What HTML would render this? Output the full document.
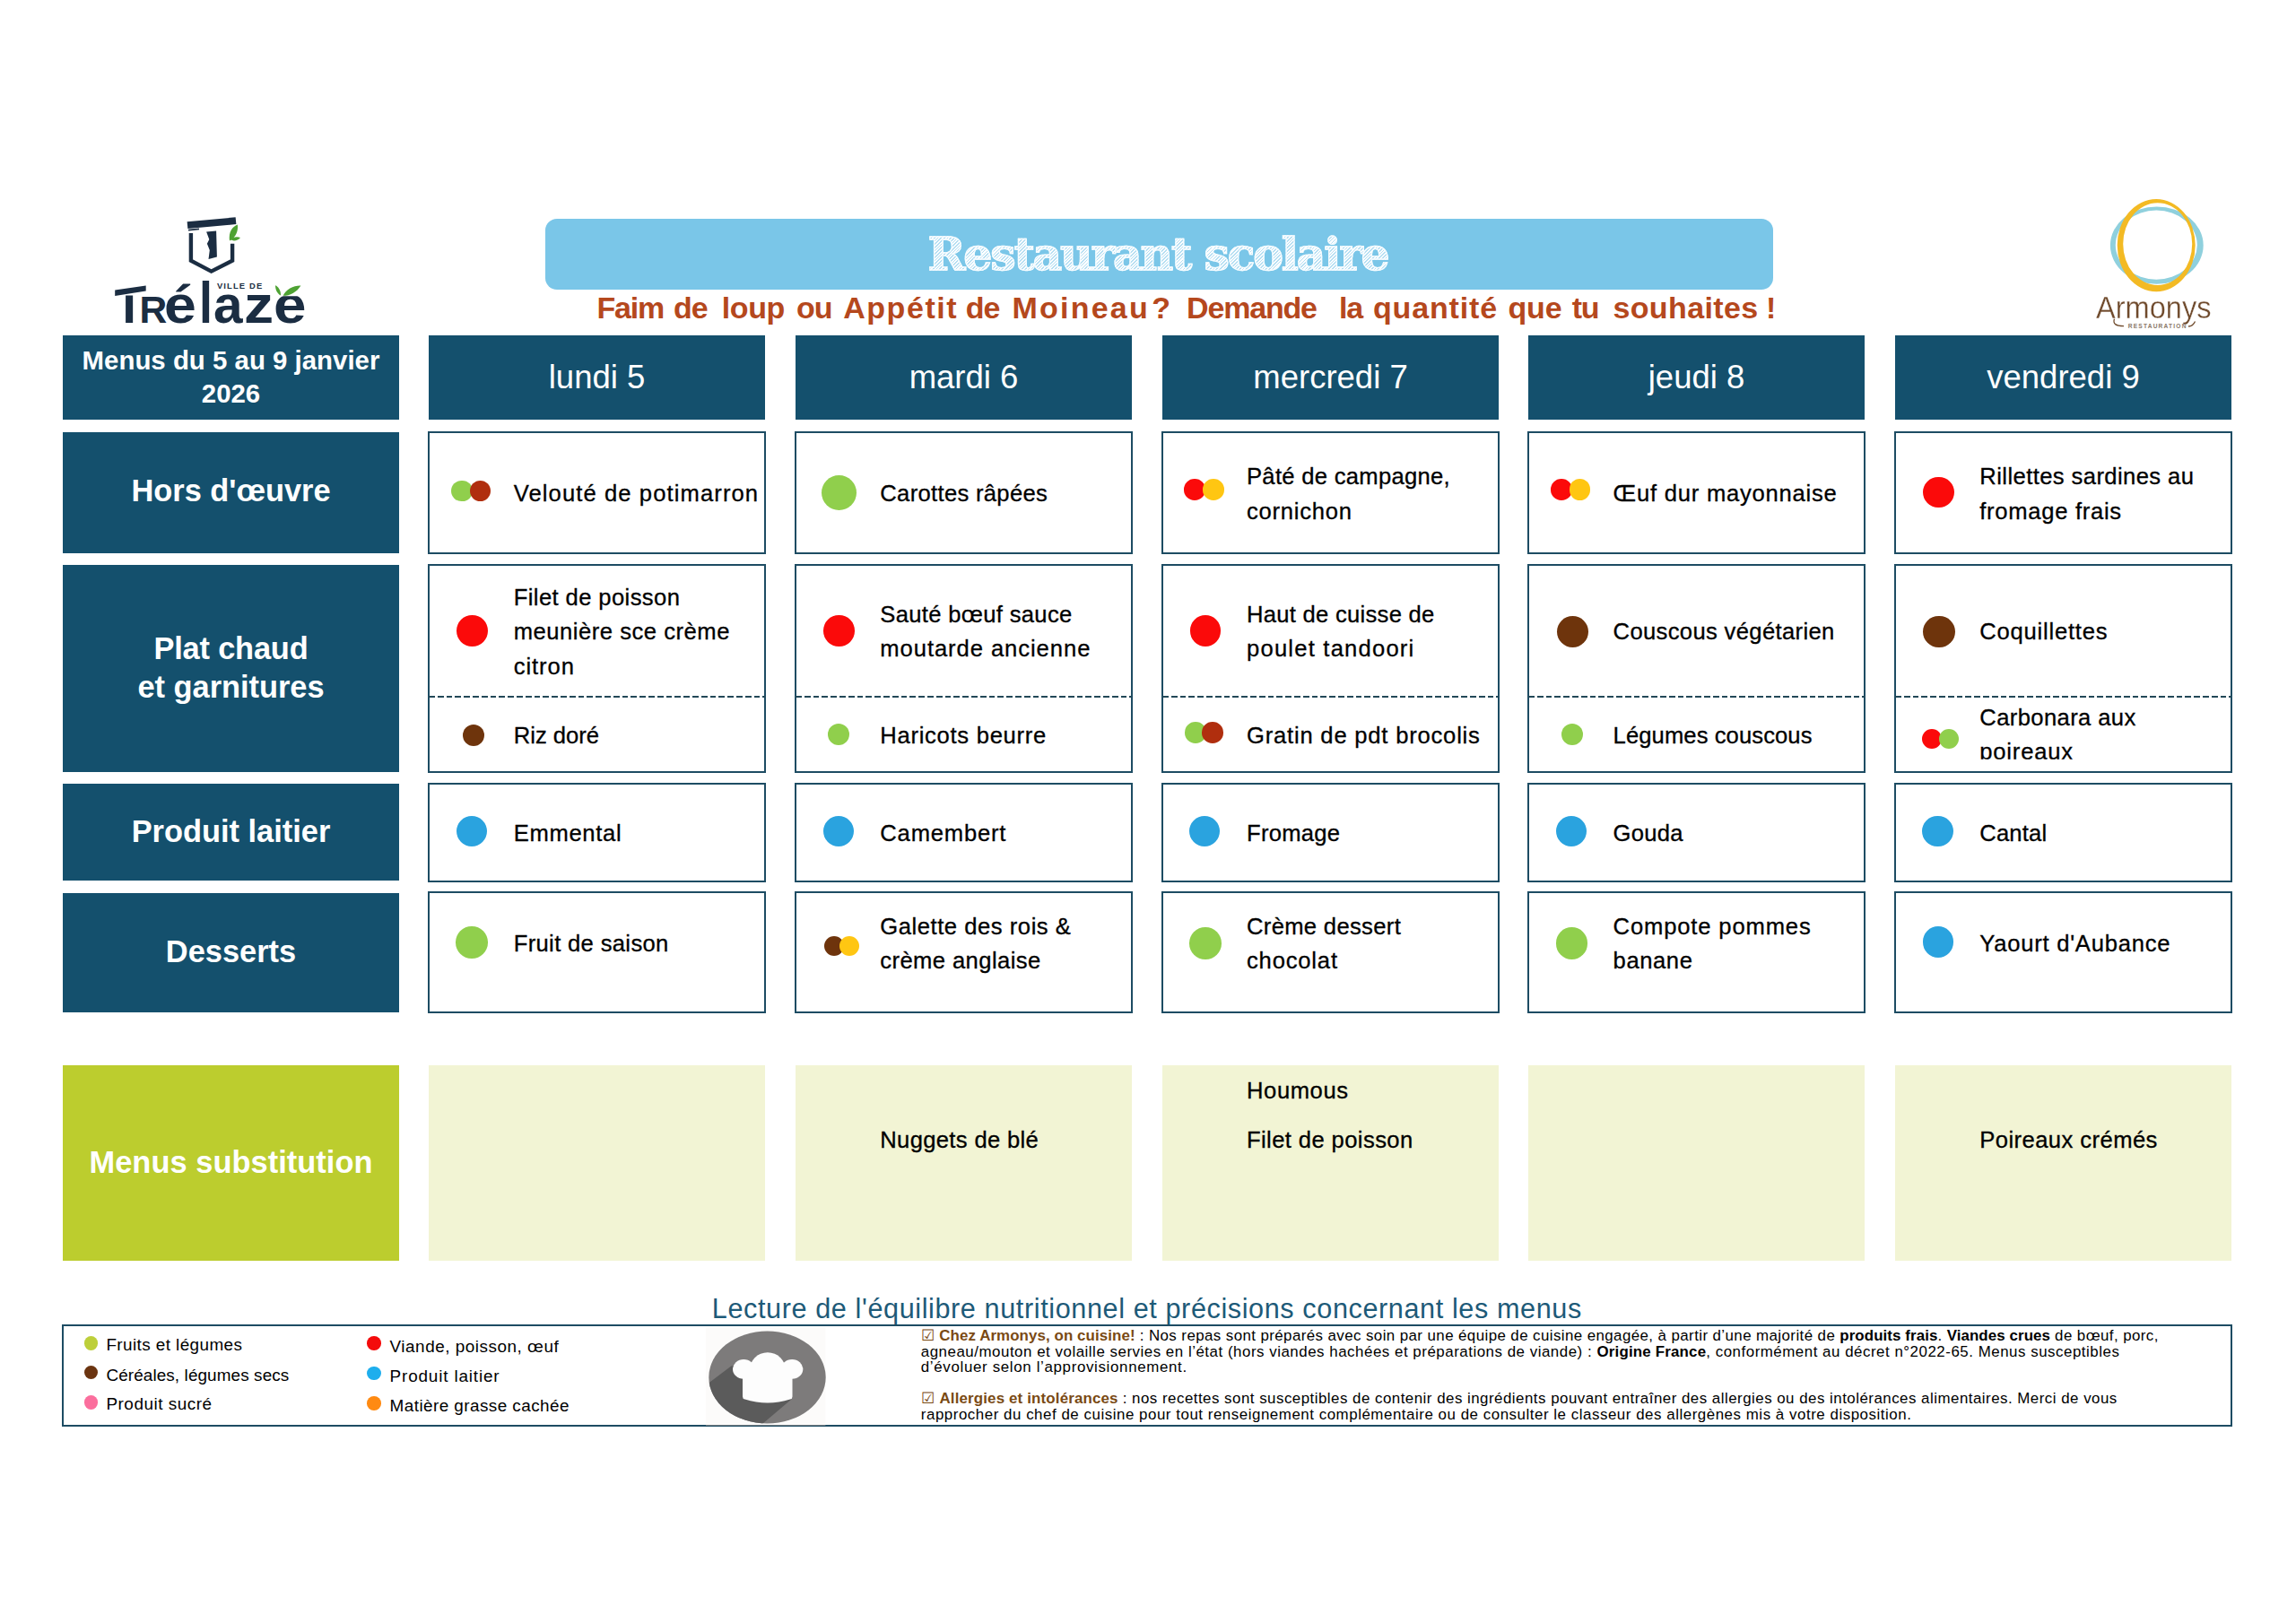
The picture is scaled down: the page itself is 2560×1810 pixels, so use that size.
<!DOCTYPE html>
<html lang="fr"><head><meta charset="utf-8"><title>Restaurant scolaire - Menus du 5 au 9 janvier 2026</title>
<style>
html,body{margin:0;padding:0;background:#fff}
body{width:2560px;height:1810px;position:relative;overflow:hidden;font-family:'Liberation Sans',sans-serif;color:#000}
.r,.t,.d,.c,.dash{position:absolute}
.t{white-space:nowrap}
.d{border-radius:50%}
.c{box-sizing:border-box;border:2.2px solid #1d4c63;background:#fff}
.dash{border:none;height:2px;background:repeating-linear-gradient(90deg,#234858 0 6.8px,transparent 6.8px 9.8px)}
.wm{font-size:0;line-height:70px}
.wm span{display:inline-block;vertical-align:baseline;white-space:nowrap}
.sub{font-size:0}
.sub span{display:inline-block;font-size:34px;white-space:nowrap;vertical-align:baseline}
.title{background:repeating-linear-gradient(135deg,#fdfeff 0 1.5px,#b4def2 1.5px 2.6px);-webkit-background-clip:text;background-clip:text;color:transparent;-webkit-text-stroke:1.3px #f6fcff}
</style></head><body>
<!-- header -->
<div class="r" style="left:607.6px;top:243.8px;width:1369.4px;height:79.2px;background:#7ac6e8;border-radius:13px"></div>
<div class="t title" style="left:1034.5px;top:250.9px;font-size:50.5px;line-height:66px;font-weight:bold;color:transparent;letter-spacing:-2.207px;font-family:'DejaVu Serif','Liberation Serif',serif;">Restaurant scolaire</div>
<div class="t sub" style="left:665.5px;top:321.0px;line-height:44px;font-weight:bold;color:#b5481d"><span style="width:85.59px;letter-spacing:-1.20px">Faim</span> <span style="width:53.74px;letter-spacing:-1.20px">de</span> <span style="width:83.28px;letter-spacing:-0.42px">loup</span> <span style="width:52.12px;letter-spacing:-1.20px">ou</span> <span style="width:136.66px;letter-spacing:1.55px">Appétit</span> <span style="width:51.54px;letter-spacing:-1.20px">de</span> <span style="width:155.97px;letter-spacing:2.25px">Moineau</span> <span style="width:38.76px;letter-spacing:0.00px">?</span> <span style="width:170.00px;letter-spacing:-1.20px">Demande</span> &nbsp;<span style="width:37.88px;letter-spacing:-1.20px">la</span> <span style="width:150.50px;letter-spacing:0.85px">quantité</span> <span style="width:71.20px;letter-spacing:-0.12px">que</span> <span style="width:45.80px;letter-spacing:-1.20px">tu</span> <span style="width:170.44px;letter-spacing:0.37px">souhaites</span> <span style="letter-spacing:0.00px">!</span></div>
<svg class="r" style="left:120px;top:236px" width="240" height="132" viewBox="120 236 240 132">
<g fill="none" stroke="#1b2d42">
<path d="M212.9 260 V290.6 L235.6 302.6 L259.1 290.6 V271.7" stroke-width="4.4" stroke-linejoin="miter"/>
<path d="M209 251.2 L263 246.2" stroke-width="7.8"/>
<path d="M210 256.6 L222 255.4" stroke-width="1.6"/>
</g>
<path d="M230.1 258.4 L241.1 257.6 L241.9 286.6 L232.5 289 L233.8 279 L230.9 271.7 L233.3 267 Z" fill="#1b2d42"/>
<path d="M256 268.6 C254.5 259 259 252.5 264.8 250.4 C266 258 262.5 265 256 268.6 Z M257.5 267.6 C259.5 264.3 264 263.6 268 265 C265.5 268 261 269.4 257.5 267.6 Z" fill="#4ea233"/>
<path d="M128.2 323.6 L162.7 318.6 L162.7 324.6 L128.2 330 Z" fill="#1b2d42"/>
<path d="M307 318.2 C310 319.5 313.5 323.5 313 329.6 C309 327.4 307 323 307 318.2 Z M315.6 329.8 C318.5 322.5 328 318 335.4 318.4 C331 326 322.5 330 315.6 329.8 Z" fill="#4ea233"/>
</svg>
<div class="t wm" style="left:127px;top:302.6px;font-weight:bold;color:#1b2d42"><span style="width:28.6px;font-size:56px;clip-path:inset(24px 0 0 0);">T</span><span style="width:27.6px;font-size:42.6px;">R</span><span style="width:38.4px;font-size:58.6px;transform:scaleX(1.1);transform-origin:left;">é</span><span style="width:16.4px;font-size:65.6px;transform:scaleX(.82);transform-origin:left bottom;">l</span><span style="width:33.8px;font-size:58.6px;">a</span><span style="width:32.9px;font-size:58.6px;transform:scaleX(1.13);transform-origin:left;">z</span><span style="font-size:58.6px;clip-path:inset(25.7px 0 0 0);transform:scaleX(1.12);transform-origin:left;">é</span></div>
<div class="t " style="left:241.9px;top:313.4px;font-size:9.4px;line-height:12px;font-weight:bold;color:#1b2d42;letter-spacing:1.15px;">VILLE DE</div>
<svg class="r" style="left:2330px;top:216px" width="150" height="160" viewBox="2330 216 150 160">
<path fill="#8fd0dd" fill-rule="evenodd" d="M2352.9 273.6 a51.9 43.2 0 1 0 103.8 0 a51.9 43.2 0 1 0 -103.8 0 Z M2358.8 273.2 a45.5 38.6 0 1 1 91 0 a45.5 38.6 0 1 1 -91 0 Z"/>
<path fill="#f3ba24" fill-rule="evenodd" d="M2360.7 273.6 a43.5 51.6 0 1 0 87 0 a43.5 51.6 0 1 0 -87 0 Z M2367.2 272.1 a38.5 45.8 0 1 1 77 0 a38.5 45.8 0 1 1 -77 0 Z"/>
<path fill="none" stroke="#6f4a2c" stroke-width="1.3" d="M2357.5 355.5 C2355.5 361 2359 363.6 2368 363.6 M2440 364 Q2445 364 2447.5 358.5"/>
</svg>
<div class="t " style="left:2336.8px;top:319.7px;font-size:35.6px;line-height:46px;color:#6f4a2c;-webkit-text-stroke:0.35px #fff;transform:scaleX(.916);transform-origin:left center;">Armonys</div>
<div class="t " style="left:2372.8px;top:358.8px;font-size:6.6px;line-height:9px;font-weight:bold;color:#8a7868;letter-spacing:1.2px;">RESTAURATION</div>
<!-- grid -->
<div class="r" style="left:70px;top:374px;width:375px;height:94px;background:#14506d;"></div>
<div class="r" style="left:70px;top:482px;width:375px;height:135px;background:#14506d;"></div>
<div class="r" style="left:70px;top:630px;width:375px;height:231px;background:#14506d;"></div>
<div class="r" style="left:70px;top:874px;width:375px;height:108px;background:#14506d;"></div>
<div class="r" style="left:70px;top:996px;width:375px;height:133px;background:#14506d;"></div>
<div class="r" style="left:70px;top:1188px;width:375px;height:218px;background:#bccd2e;"></div>
<div class="r" style="left:478px;top:374px;width:375px;height:94px;background:#14506d;"></div>
<div class="r" style="left:887px;top:374px;width:375px;height:94px;background:#14506d;"></div>
<div class="r" style="left:1296px;top:374px;width:375px;height:94px;background:#14506d;"></div>
<div class="r" style="left:1704px;top:374px;width:375px;height:94px;background:#14506d;"></div>
<div class="r" style="left:2113px;top:374px;width:375px;height:94px;background:#14506d;"></div>
<div class="c" style="left:477px;top:481px;width:377px;height:137px"></div>
<div class="c" style="left:886px;top:481px;width:377px;height:137px"></div>
<div class="c" style="left:1295px;top:481px;width:377px;height:137px"></div>
<div class="c" style="left:1703px;top:481px;width:377px;height:137px"></div>
<div class="c" style="left:2112px;top:481px;width:377px;height:137px"></div>
<div class="c" style="left:477px;top:629px;width:377px;height:233px"></div>
<div class="c" style="left:886px;top:629px;width:377px;height:233px"></div>
<div class="c" style="left:1295px;top:629px;width:377px;height:233px"></div>
<div class="c" style="left:1703px;top:629px;width:377px;height:233px"></div>
<div class="c" style="left:2112px;top:629px;width:377px;height:233px"></div>
<div class="c" style="left:477px;top:873px;width:377px;height:111px"></div>
<div class="c" style="left:886px;top:873px;width:377px;height:111px"></div>
<div class="c" style="left:1295px;top:873px;width:377px;height:111px"></div>
<div class="c" style="left:1703px;top:873px;width:377px;height:111px"></div>
<div class="c" style="left:2112px;top:873px;width:377px;height:111px"></div>
<div class="c" style="left:477px;top:994px;width:377px;height:136px"></div>
<div class="c" style="left:886px;top:994px;width:377px;height:136px"></div>
<div class="c" style="left:1295px;top:994px;width:377px;height:136px"></div>
<div class="c" style="left:1703px;top:994px;width:377px;height:136px"></div>
<div class="c" style="left:2112px;top:994px;width:377px;height:136px"></div>
<div class="dash" style="left:478px;top:775.6px;width:375px"></div>
<div class="dash" style="left:887px;top:775.6px;width:375px"></div>
<div class="dash" style="left:1296px;top:775.6px;width:375px"></div>
<div class="dash" style="left:1704px;top:775.6px;width:375px"></div>
<div class="dash" style="left:2113px;top:775.6px;width:375px"></div>
<div class="r" style="left:478px;top:1188px;width:375px;height:218px;background:#f2f4d4;"></div>
<div class="r" style="left:887px;top:1188px;width:375px;height:218px;background:#f2f4d4;"></div>
<div class="r" style="left:1296px;top:1188px;width:375px;height:218px;background:#f2f4d4;"></div>
<div class="r" style="left:1704px;top:1188px;width:375px;height:218px;background:#f2f4d4;"></div>
<div class="r" style="left:2113px;top:1188px;width:375px;height:218px;background:#f2f4d4;"></div>
<div class="t " style="left:70.0px;top:382.7px;font-size:29.4px;line-height:38px;font-weight:bold;color:#fff;letter-spacing:0.01px;width:375px;text-align:center;">Menus du 5 au 9 janvier</div>
<div class="t " style="left:70.0px;top:419.7px;font-size:29.4px;line-height:38px;font-weight:bold;color:#fff;width:375px;text-align:center;">2026</div>
<div class="t " style="left:70.0px;top:525.3px;font-size:34.4px;line-height:45px;font-weight:bold;color:#fff;letter-spacing:-0.017px;width:375px;text-align:center;">Hors d'œuvre</div>
<div class="t " style="left:70.0px;top:700.6px;font-size:34.4px;line-height:45px;font-weight:bold;color:#fff;letter-spacing:-0.191px;width:375px;text-align:center;">Plat chaud</div>
<div class="t " style="left:70.0px;top:744.2px;font-size:34.4px;line-height:45px;font-weight:bold;color:#fff;letter-spacing:-0.024px;width:375px;text-align:center;">et garnitures</div>
<div class="t " style="left:70.0px;top:905.0px;font-size:34.4px;line-height:45px;font-weight:bold;color:#fff;letter-spacing:0.002px;width:375px;text-align:center;">Produit laitier</div>
<div class="t " style="left:70.0px;top:1039.1px;font-size:34.4px;line-height:45px;font-weight:bold;color:#fff;letter-spacing:0.011px;width:375px;text-align:center;">Desserts</div>
<div class="t " style="left:70.0px;top:1273.6px;font-size:34.4px;line-height:45px;font-weight:bold;color:#fff;letter-spacing:0.043px;width:375px;text-align:center;">Menus substitution</div>
<div class="t " style="left:478.0px;top:396.9px;font-size:36.5px;line-height:47px;color:#fff;width:375px;text-align:center;">lundi 5</div>
<div class="t " style="left:887.0px;top:396.9px;font-size:36.5px;line-height:47px;color:#fff;width:375px;text-align:center;">mardi 6</div>
<div class="t " style="left:1296.0px;top:396.9px;font-size:36.5px;line-height:47px;color:#fff;width:375px;text-align:center;">mercredi 7</div>
<div class="t " style="left:1704.0px;top:396.9px;font-size:36.5px;line-height:47px;color:#fff;width:375px;text-align:center;">jeudi 8</div>
<div class="t " style="left:2113.0px;top:396.9px;font-size:36.5px;line-height:47px;color:#fff;width:375px;text-align:center;">vendredi 9</div>
<div class="t " style="left:572.7px;top:534.3px;font-size:25.6px;line-height:33px;letter-spacing:1.099px;-webkit-text-stroke:0.3px #000;">Velouté de potimarron</div>
<div class="d" style="left:502.9px;top:535.5px;width:23.7px;height:23.7px;background:#90cf4c"></div>
<div class="d" style="left:523.5px;top:535.5px;width:23.7px;height:23.7px;background:#b02e0e"></div>
<div class="t " style="left:981.3px;top:534.3px;font-size:25.6px;line-height:33px;letter-spacing:0.314px;-webkit-text-stroke:0.3px #000;">Carottes râpées</div>
<div class="d" style="left:915.7px;top:529.9px;width:39px;height:39px;background:#90cf4c"></div>
<div class="t " style="left:1390.0px;top:515.1px;font-size:25.6px;line-height:33px;letter-spacing:0.295px;-webkit-text-stroke:0.3px #000;">Pâté de campagne,</div>
<div class="t " style="left:1390.0px;top:553.5px;font-size:25.6px;line-height:33px;letter-spacing:0.757px;-webkit-text-stroke:0.3px #000;">cornichon</div>
<div class="d" style="left:1320.3px;top:534.4px;width:23.7px;height:23.7px;background:#fb0a0a"></div>
<div class="d" style="left:1340.9px;top:534.4px;width:23.7px;height:23.7px;background:#ffc612"></div>
<div class="t " style="left:1798.6px;top:534.3px;font-size:25.6px;line-height:33px;letter-spacing:0.769px;-webkit-text-stroke:0.3px #000;">Œuf dur mayonnaise</div>
<div class="d" style="left:1728.9px;top:534.4px;width:23.7px;height:23.7px;background:#fb0a0a"></div>
<div class="d" style="left:1749.5px;top:534.4px;width:23.7px;height:23.7px;background:#ffc612"></div>
<div class="t " style="left:2207.3px;top:515.1px;font-size:25.6px;line-height:33px;letter-spacing:0.411px;-webkit-text-stroke:0.3px #000;">Rillettes sardines au</div>
<div class="t " style="left:2207.3px;top:553.5px;font-size:25.6px;line-height:33px;letter-spacing:0.703px;-webkit-text-stroke:0.3px #000;">fromage frais</div>
<div class="d" style="left:2143.9px;top:531.6px;width:34.8px;height:34.8px;background:#fb0a0a"></div>
<div class="t " style="left:572.7px;top:649.8px;font-size:25.6px;line-height:33px;letter-spacing:0.396px;-webkit-text-stroke:0.3px #000;">Filet de poisson</div>
<div class="t " style="left:572.7px;top:688.2px;font-size:25.6px;line-height:33px;letter-spacing:0.524px;-webkit-text-stroke:0.3px #000;">meunière sce crème</div>
<div class="t " style="left:572.7px;top:726.6px;font-size:25.6px;line-height:33px;letter-spacing:0.934px;-webkit-text-stroke:0.3px #000;">citron</div>
<div class="d" style="left:509.0px;top:686.0px;width:34.8px;height:34.8px;background:#fb0a0a"></div>
<div class="t " style="left:981.3px;top:669.0px;font-size:25.6px;line-height:33px;letter-spacing:0.322px;-webkit-text-stroke:0.3px #000;">Sauté bœuf sauce</div>
<div class="t " style="left:981.3px;top:707.4px;font-size:25.6px;line-height:33px;letter-spacing:0.934px;-webkit-text-stroke:0.3px #000;">moutarde ancienne</div>
<div class="d" style="left:918.1px;top:686.0px;width:34.5px;height:34.5px;background:#fb0a0a"></div>
<div class="t " style="left:1390.0px;top:669.0px;font-size:25.6px;line-height:33px;letter-spacing:0.278px;-webkit-text-stroke:0.3px #000;">Haut de cuisse de</div>
<div class="t " style="left:1390.0px;top:707.4px;font-size:25.6px;line-height:33px;letter-spacing:1.21px;-webkit-text-stroke:0.3px #000;">poulet tandoori</div>
<div class="d" style="left:1326.9px;top:686.4px;width:34.5px;height:34.5px;background:#fb0a0a"></div>
<div class="t " style="left:1798.6px;top:688.2px;font-size:25.6px;line-height:33px;letter-spacing:0.345px;-webkit-text-stroke:0.3px #000;">Couscous végétarien</div>
<div class="d" style="left:1735.8px;top:686.9px;width:35.5px;height:35.5px;background:#6e340c"></div>
<div class="t " style="left:2207.3px;top:688.2px;font-size:25.6px;line-height:33px;letter-spacing:0.764px;-webkit-text-stroke:0.3px #000;">Coquillettes</div>
<div class="d" style="left:2144.3px;top:686.9px;width:35.5px;height:35.5px;background:#6e340c"></div>
<div class="t " style="left:572.7px;top:803.7px;font-size:25.6px;line-height:33px;letter-spacing:0.011px;-webkit-text-stroke:0.3px #000;">Riz doré</div>
<div class="d" style="left:516.0px;top:807.5px;width:24px;height:24px;background:#6e340c"></div>
<div class="t " style="left:981.3px;top:803.7px;font-size:25.6px;line-height:33px;letter-spacing:0.715px;-webkit-text-stroke:0.3px #000;">Haricots beurre</div>
<div class="d" style="left:923.2px;top:806.9px;width:24.3px;height:24.3px;background:#90cf4c"></div>
<div class="t " style="left:1390.0px;top:803.7px;font-size:25.6px;line-height:33px;letter-spacing:0.792px;-webkit-text-stroke:0.3px #000;">Gratin de pdt brocolis</div>
<div class="d" style="left:1321.4px;top:805.2px;width:23.6px;height:23.6px;background:#90cf4c"></div>
<div class="d" style="left:1340.3px;top:805.2px;width:23.6px;height:23.6px;background:#b02e0e"></div>
<div class="t " style="left:1798.6px;top:803.7px;font-size:25.6px;line-height:33px;letter-spacing:0.092px;-webkit-text-stroke:0.3px #000;">Légumes couscous</div>
<div class="d" style="left:1740.5px;top:807.0px;width:24px;height:24px;background:#90cf4c"></div>
<div class="t " style="left:2207.3px;top:783.9px;font-size:25.6px;line-height:33px;letter-spacing:0.384px;-webkit-text-stroke:0.3px #000;">Carbonara aux</div>
<div class="t " style="left:2207.3px;top:822.3px;font-size:25.6px;line-height:33px;letter-spacing:0.802px;-webkit-text-stroke:0.3px #000;clip-path:inset(0 0 8.6px 0);">poireaux</div>
<div class="d" style="left:2143.3px;top:812.6px;width:22px;height:22px;background:#fb0a0a"></div>
<div class="d" style="left:2161.9px;top:812.6px;width:22px;height:22px;background:#90cf4c"></div>
<div class="t " style="left:572.7px;top:913.4px;font-size:25.6px;line-height:33px;letter-spacing:0.673px;-webkit-text-stroke:0.3px #000;">Emmental</div>
<div class="d" style="left:508.9px;top:909.9px;width:34.3px;height:34.3px;background:#2aa3df"></div>
<div class="t " style="left:981.3px;top:913.4px;font-size:25.6px;line-height:33px;letter-spacing:0.811px;-webkit-text-stroke:0.3px #000;">Camembert</div>
<div class="d" style="left:917.5px;top:909.9px;width:34.3px;height:34.3px;background:#2aa3df"></div>
<div class="t " style="left:1390.0px;top:913.4px;font-size:25.6px;line-height:33px;letter-spacing:0.268px;-webkit-text-stroke:0.3px #000;">Fromage</div>
<div class="d" style="left:1326.1px;top:909.9px;width:34.3px;height:34.3px;background:#2aa3df"></div>
<div class="t " style="left:1798.6px;top:913.4px;font-size:25.6px;line-height:33px;letter-spacing:0.271px;-webkit-text-stroke:0.3px #000;">Gouda</div>
<div class="d" style="left:1734.7px;top:909.9px;width:34.3px;height:34.3px;background:#2aa3df"></div>
<div class="t " style="left:2207.3px;top:913.4px;font-size:25.6px;line-height:33px;letter-spacing:0.169px;-webkit-text-stroke:0.3px #000;">Cantal</div>
<div class="d" style="left:2143.4px;top:909.9px;width:34.3px;height:34.3px;background:#2aa3df"></div>
<div class="t " style="left:572.7px;top:1035.9px;font-size:25.6px;line-height:33px;letter-spacing:0.343px;-webkit-text-stroke:0.3px #000;">Fruit de saison</div>
<div class="d" style="left:508.3px;top:1033.2px;width:35.6px;height:35.6px;background:#90cf4c"></div>
<div class="t " style="left:981.3px;top:1016.7px;font-size:25.6px;line-height:33px;letter-spacing:0.542px;-webkit-text-stroke:0.3px #000;">Galette des rois &amp;</div>
<div class="t " style="left:981.3px;top:1055.1px;font-size:25.6px;line-height:33px;letter-spacing:0.41px;-webkit-text-stroke:0.3px #000;">crème anglaise</div>
<div class="d" style="left:918.6px;top:1044.4px;width:22px;height:22px;background:#6e340c"></div>
<div class="d" style="left:935.8px;top:1044.4px;width:22px;height:22px;background:#ffc612"></div>
<div class="t " style="left:1390.0px;top:1016.7px;font-size:25.6px;line-height:33px;letter-spacing:0.327px;-webkit-text-stroke:0.3px #000;">Crème dessert</div>
<div class="t " style="left:1390.0px;top:1055.1px;font-size:25.6px;line-height:33px;letter-spacing:0.809px;-webkit-text-stroke:0.3px #000;">chocolat</div>
<div class="d" style="left:1326.1px;top:1034.0px;width:35.7px;height:35.7px;background:#90cf4c"></div>
<div class="t " style="left:1798.6px;top:1016.7px;font-size:25.6px;line-height:33px;letter-spacing:0.849px;-webkit-text-stroke:0.3px #000;">Compote pommes</div>
<div class="t " style="left:1798.6px;top:1055.1px;font-size:25.6px;line-height:33px;letter-spacing:0.582px;-webkit-text-stroke:0.3px #000;">banane</div>
<div class="d" style="left:1734.7px;top:1034.0px;width:35.7px;height:35.7px;background:#90cf4c"></div>
<div class="t " style="left:2207.3px;top:1035.9px;font-size:25.6px;line-height:33px;letter-spacing:0.757px;-webkit-text-stroke:0.3px #000;">Yaourt d'Aubance</div>
<div class="d" style="left:2143.9px;top:1033.2px;width:34.5px;height:34.5px;background:#2aa3df"></div>
<div class="t " style="left:981.3px;top:1254.6px;font-size:25.6px;line-height:33px;letter-spacing:0.331px;-webkit-text-stroke:0.3px #000;">Nuggets de blé</div>
<div class="t " style="left:1390.0px;top:1200.0px;font-size:25.6px;line-height:33px;letter-spacing:0.579px;-webkit-text-stroke:0.3px #000;">Houmous</div>
<div class="t " style="left:1390.0px;top:1254.6px;font-size:25.6px;line-height:33px;letter-spacing:0.396px;-webkit-text-stroke:0.3px #000;">Filet de poisson</div>
<div class="t " style="left:2207.3px;top:1254.6px;font-size:25.6px;line-height:33px;letter-spacing:0.431px;-webkit-text-stroke:0.3px #000;">Poireaux crémés</div>
<!-- legend -->
<div class="t " style="left:793.8px;top:1438.8px;font-size:30.6px;line-height:40px;color:#1d5a78;letter-spacing:0.606px;">Lecture de l'équilibre nutritionnel et précisions concernant les menus</div>
<div class="c" style="left:69px;top:1477px;width:2420px;height:114px"></div>
<div class="d" style="left:93.6px;top:1489.9px;width:15.7px;height:15.7px;background:#bdcf3a"></div>
<div class="t " style="left:118.4px;top:1487.4px;font-size:18.9px;line-height:25px;letter-spacing:0.418px;">Fruits et légumes</div>
<div class="d" style="left:93.6px;top:1522.6px;width:15.7px;height:15.7px;background:#6b3410"></div>
<div class="t " style="left:118.4px;top:1520.7px;font-size:18.9px;line-height:25px;letter-spacing:0.109px;">Céréales, légumes secs</div>
<div class="d" style="left:93.6px;top:1555.9px;width:15.7px;height:15.7px;background:#fb6e9d"></div>
<div class="t " style="left:118.4px;top:1553.4px;font-size:18.9px;line-height:25px;letter-spacing:0.531px;">Produit sucré</div>
<div class="d" style="left:409.3px;top:1490.2px;width:15.7px;height:15.7px;background:#f40b0b"></div>
<div class="t " style="left:434.6px;top:1488.5px;font-size:18.9px;line-height:25px;letter-spacing:0.521px;">Viande, poisson, œuf</div>
<div class="d" style="left:409.3px;top:1523.7px;width:15.7px;height:15.7px;background:#1eaeed"></div>
<div class="t " style="left:434.6px;top:1521.8px;font-size:18.9px;line-height:25px;letter-spacing:0.837px;">Produit laitier</div>
<div class="d" style="left:409.3px;top:1557.0px;width:15.7px;height:15.7px;background:#ff8a12"></div>
<div class="t " style="left:434.6px;top:1555.0px;font-size:18.9px;line-height:25px;letter-spacing:0.438px;">Matière grasse cachée</div>
<svg class="r" style="left:787px;top:1479px" width="134" height="111" viewBox="787 1479 134 111">
<rect x="787" y="1479.7" width="133.4" height="109.6" fill="#fcfbfa"/>
<defs><clipPath id="ce"><ellipse cx="855.5" cy="1536" rx="65.2" ry="51.5"/></clipPath></defs>
<ellipse cx="855.5" cy="1536" rx="65.2" ry="51.5" fill="#7d7b7b"/>
<path clip-path="url(#ce)" d="M815.5 1523.3 L780 1549.9 L780 1596 L840.6 1596 L882.7 1560.3 L882.7 1537.3 Z" fill="#5b5b5b"/>
<g fill="#fdfdfd"><ellipse cx="829.2" cy="1526.9" rx="12.2" ry="10.9"/><circle cx="855.9" cy="1528.5" r="20.3"/><ellipse cx="883.1" cy="1526.9" rx="12.2" ry="10.9"/>
<path d="M828 1527 H883.5 V1557.5 Q883.5 1560 881 1560.6 Q856 1568.6 830.5 1560.6 Q828 1560 828 1557.5 Z"/></g>
</svg>
<div class="r" style="left:787px;top:1588.6px;width:133.4px;height:1.8px;background:#737b80;"></div>
<div class="t " style="left:1026.8px;top:1479.3px;font-size:16.9px;line-height:22px;letter-spacing:0.415px;white-space:pre;"><span style="color:#7a4a14">☑ <b style="letter-spacing:0.085px">Chez Armonys, on cuisine!</b></span> : Nos repas sont préparés avec soin par une équipe de cuisine engagée, à partir d’une majorité de <b style="letter-spacing:0.085px">produits frais</b>. <b style="letter-spacing:0.085px">Viandes crues</b> de bœuf, porc,</div>
<div class="t " style="left:1026.8px;top:1496.7px;font-size:16.9px;line-height:22px;letter-spacing:0.52px;white-space:pre;">agneau/mouton et volaille servies en l’état (hors viandes hachées et préparations de viande) : <b style="letter-spacing:0.190px">Origine France</b>, conformément au décret n°2022-65. Menus susceptibles</div>
<div class="t " style="left:1026.8px;top:1514.1px;font-size:16.9px;line-height:22px;letter-spacing:0.66px;white-space:pre;">d’évoluer selon l’approvisionnement.</div>
<div class="t " style="left:1026.8px;top:1549.4px;font-size:16.9px;line-height:22px;letter-spacing:0.484px;white-space:pre;"><span style="color:#7a4a14">☑ <b style="letter-spacing:0.154px">Allergies et intolérances</b></span> : nos recettes sont susceptibles de contenir des ingrédients pouvant entraîner des allergies ou des intolérances alimentaires. Merci de vous</div>
<div class="t " style="left:1026.8px;top:1566.8px;font-size:16.9px;line-height:22px;letter-spacing:0.535px;white-space:pre;">rapprocher du chef de cuisine pour tout renseignement complémentaire ou de consulter le classeur des allergènes mis à votre disposition.</div>
</body></html>
